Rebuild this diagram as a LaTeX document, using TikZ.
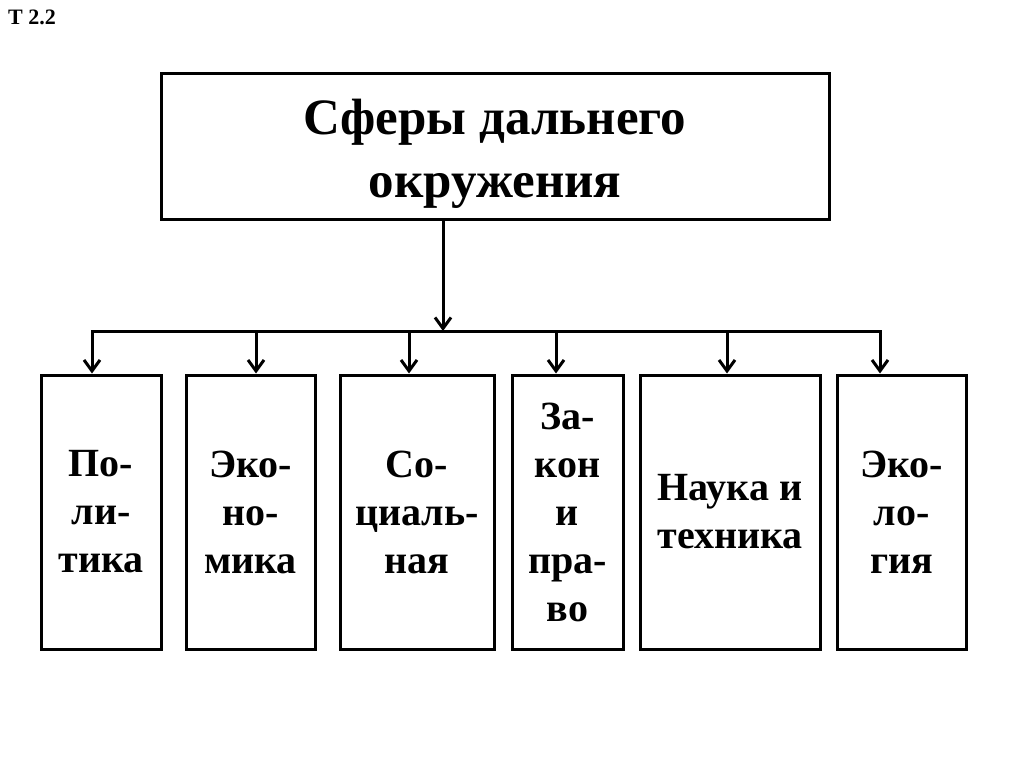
\documentclass[tikz,border=0pt]{standalone}
\usepackage{fontspec}
\setmainfont{Liberation Serif}
\usetikzlibrary{arrows.meta}
\begin{document}
\begin{tikzpicture}[x=1pt,y=-1pt,
  frame/.style={draw=black, line width=3pt, inner sep=0pt, align=center, font=\fontsize{40}{48}\selectfont\bfseries},
  titletext/.style={inner sep=0pt, align=center, font=\fontsize{51}{63}\selectfont\bfseries},
  link/.style={line width=3pt},
  arr/.style={line width=3pt, -{Straight Barb[length=11pt,width=16pt,line width=3pt]}}]
\useasboundingbox (0,0) rectangle (1024,767);
\fill[white] (0,0) rectangle (1024,767);
\node[anchor=base west, inner sep=0pt, font=\fontsize{22}{26}\selectfont\bfseries] (lbl) at (8,25) {Т 2.2};
\node[frame, minimum width=668pt, minimum height=146pt] (top) at (495,147) {};
\node[titletext] (title) at ([yshift=-7pt]top.center) {Сферы дальнего\\окружения};
\node[frame, minimum width=120pt, minimum height=274pt] (b1) at (101,512) {По-\\ли-\\тика};
\node[frame, minimum width=129pt, minimum height=274pt] (b2) at (250.5,512) {Эко-\\но-\\мика};
\node[frame, minimum width=154pt, minimum height=274pt] (b3) at (417,512) {Со-\\циаль-\\ная};
\node[frame, minimum width=111pt, minimum height=274pt] (b4) at (567.5,512) {За-\\кон\\и\\пра-\\во};
\node[frame, minimum width=180pt, minimum height=274pt] (b5) at (730,512) {Наука и\\техника};
\node[frame, minimum width=129pt, minimum height=274pt] (b6) at (901.5,512) {Эко-\\ло-\\гия};
\coordinate (bus) at (443,331);
\coordinate (a1) at (92,331);
\coordinate (a2) at (256,331);
\coordinate (a3) at (409,331);
\coordinate (a4) at (556,331);
\coordinate (a5) at (727,331);
\coordinate (a6) at (880,331);
\draw[arr] (top.south -| bus) -- (bus);
\draw[link, line cap=rect] (a1) -- (a6);
\draw[arr] (a1) -- (a1 |- b1.north);
\draw[arr] (a2) -- (a2 |- b2.north);
\draw[arr] (a3) -- (a3 |- b3.north);
\draw[arr] (a4) -- (a4 |- b4.north);
\draw[arr] (a5) -- (a5 |- b5.north);
\draw[arr] (a6) -- (a6 |- b6.north);
\end{tikzpicture}
\end{document}
